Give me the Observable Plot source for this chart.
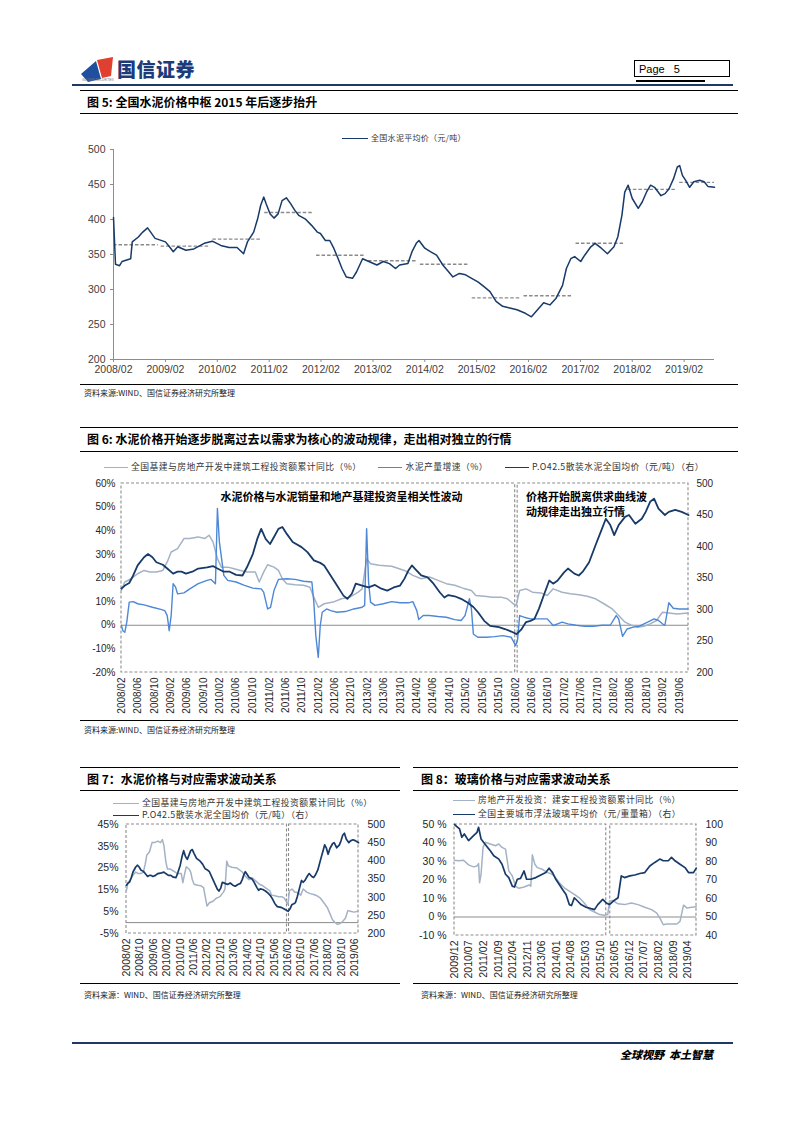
<!DOCTYPE html>
<html><head><meta charset="utf-8">
<script src="https://cdn.jsdelivr.net/npm/d3@7"></script>
<script src="https://cdn.jsdelivr.net/npm/@observablehq/plot@0.6"></script>
<style>
body{margin:0;background:#fff;}
#page{position:relative;width:793px;height:1122px;overflow:hidden;background:#fff;font-family:"Liberation Sans",Arial,sans-serif;}
.abs{position:absolute;}
.rule{position:absolute;height:0;}
.title{position:absolute;font-family:"Noto Sans CJK SC",sans-serif;font-weight:700;font-size:12px;color:#000;white-space:nowrap;line-height:13px;}
.src{position:absolute;font-family:"Noto Sans CJK SC",sans-serif;font-size:8px;color:#222;white-space:nowrap;line-height:9px;}
.leg{position:absolute;font-family:"Noto Sans CJK SC",sans-serif;font-size:8.8px;letter-spacing:0.45px;color:#333;white-space:nowrap;line-height:10px;height:10px;display:flex;align-items:center;}
.sw{display:inline-block;width:24px;height:0;margin-right:3px;}
.chart{position:absolute;}
</style></head>
<body><div id="page"></div>
<script>
// ---------------- DATA ----------------
const fig5TickLabels = ["2008/02","2009/02","2010/02","2011/02","2012/02","2013/02","2014/02","2015/02","2016/02","2017/02","2018/02","2019/02"];
const fig5YTicks = [200,250,300,350,400,450,500];
const cementAvgPrice = [
["2008-02-01",403],["2008-02-15",336],["2008-03-15",334],["2008-04-01",340],["2008-06-01",344],["2008-06-12",368],["2008-07-25",375],["2008-08-25",382],["2008-09-28",388],["2008-11-20",373],["2009-02-01",368],["2009-03-01",361],["2009-03-28",354],["2009-04-28",361],["2009-06-25",356],["2009-08-20",358],["2009-11-01",366],["2009-12-28",369],["2010-02-25",363],["2010-04-25",360],["2010-06-20",360],["2010-08-05",351],["2010-09-01",368],["2010-10-15",382],["2010-11-12",401],["2010-12-03",420],["2010-12-25",432],["2011-01-10",423],["2011-02-08",408],["2011-03-07",402],["2011-04-05",408],["2011-05-03",427],["2011-06-02",431],["2011-07-01",423],["2011-08-01",413],["2011-08-28",406],["2011-10-12",401],["2011-11-25",392],["2012-01-06",382],["2012-01-28",380],["2012-03-03",370],["2012-04-03",370],["2012-05-01",359],["2012-06-01",344],["2012-06-28",330],["2012-07-28",318],["2012-09-10",316],["2012-10-08",325],["2012-11-20",344],["2013-01-03",340],["2013-03-01",335],["2013-04-15",340],["2013-05-28",337],["2013-07-10",330],["2013-08-08",335],["2013-10-05",337],["2013-11-03",354],["2013-12-03",366],["2013-12-22",370],["2014-02-01",359],["2014-03-12",354],["2014-04-25",349],["2014-06-08",335],["2014-07-20",325],["2014-08-18",318],["2014-10-03",323],["2014-11-15",321],["2014-12-28",316],["2015-02-10",311],["2015-03-25",304],["2015-05-06",297],["2015-06-18",283],["2015-08-03",276],["2015-09-15",274],["2015-11-12",271],["2016-01-10",266],["2016-02-22",261],["2016-04-05",271],["2016-05-18",281],["2016-07-01",278],["2016-08-12",287],["2016-09-28",306],["2016-10-25",330],["2016-11-25",344],["2016-12-22",347],["2017-02-03",340],["2017-03-03",349],["2017-04-15",361],["2017-05-15",366],["2017-06-28",359],["2017-08-10",351],["2017-09-25",361],["2017-10-22",375],["2017-11-20",406],["2017-12-10",439],["2018-01-03",449],["2018-02-01",430],["2018-03-15",416],["2018-04-12",425],["2018-05-12",439],["2018-06-10",449],["2018-07-08",446],["2018-08-22",434],["2018-09-20",437],["2018-10-18",444],["2018-11-18",458],["2018-12-15",475],["2019-01-01",477],["2019-01-20",463],["2019-02-12",456],["2019-03-12",446],["2019-04-10",454],["2019-05-22",456],["2019-06-22",454],["2019-07-20",447],["2019-09-03",446]
];
const avgYears  = [2008,2009,2010,2011,2012,2013,2014,2015,2016,2017,2018,2019];
const avgValues = [364,362,372,410,349,341,336,288,291,366,443,453];

const fig6TickLabels = ["2008/02","2008/06","2008/10","2009/02","2009/06","2009/10","2010/02","2010/06","2010/10","2011/02","2011/06","2011/10","2012/02","2012/06","2012/10","2013/02","2013/06","2013/10","2014/02","2014/06","2014/10","2015/02","2015/06","2015/10","2016/02","2016/06","2016/10","2017/02","2017/06","2017/10","2018/02","2018/06","2018/10","2019/02","2019/06"];
const fig7TickLabels = ["2008/02","2008/10","2009/06","2010/02","2010/10","2011/06","2012/02","2012/10","2013/06","2014/02","2014/10","2015/06","2016/02","2016/10","2017/06","2018/02","2018/10","2019/06"];
const fig8TickLabels = ["2009/12","2010/07","2011/02","2011/09","2012/04","2012/11","2013/06","2014/01","2014/08","2015/03","2015/10","2016/05","2016/12","2017/07","2018/02","2018/09","2019/04"];

// decimal year, value
const investYoY = [[2008.08,14.7],[2008.15,18.3],[2008.28,19.7],[2008.41,21.8],[2008.54,23.2],[2008.66,22.5],[2008.79,22.5],[2008.92,23.2],[2009.01,26.8],[2009.09,31],[2009.22,32.4],[2009.35,36.7],[2009.47,36.7],[2009.64,37.4],[2009.77,36.7],[2009.86,38.1],[2009.94,35.3],[2010.03,28.2],[2010.11,24.6],[2010.24,24.6],[2010.37,23.9],[2010.50,23.2],[2010.63,22.5],[2010.80,22.5],[2010.88,18.3],[2010.97,22.5],[2011.05,25.6],[2011.18,24.6],[2011.27,23.2],[2011.35,19.7],[2011.44,17.6],[2011.61,17.1],[2011.78,16.9],[2011.91,16.1],[2011.99,11.9],[2012.08,7.6],[2012.20,9.1],[2012.38,9.8],[2012.55,11.2],[2012.72,11.9],[2012.89,14],[2012.97,15.4],[2013.06,28.2],[2013.14,26],[2013.31,25.4],[2013.57,25],[2013.83,23.2],[2014.00,21.1],[2014.17,19.7],[2014.34,20.4],[2014.51,19],[2014.68,17.6],[2014.85,16.9],[2015.02,15.7],[2015.19,14.7],[2015.28,12.6],[2015.45,12.3],[2015.62,11.9],[2015.79,11.9],[2015.92,11.2],[2016.04,9.1],[2016.10,8.4],[2016.17,14.7],[2016.30,15.4],[2016.43,14],[2016.60,13.7],[2016.73,12.6],[2016.85,15.4],[2017.03,14],[2017.20,13.3],[2017.37,12.9],[2017.54,12.3],[2017.71,11.2],[2017.88,9.1],[2018.05,6.9],[2018.18,4.1],[2018.31,1.3],[2018.43,0.1],[2018.56,-0.8],[2018.69,-0.4],[2018.82,0.6],[2018.95,2],[2019.07,5.5],[2019.20,5.2],[2019.37,4.8],[2019.59,5.2]];
const cementOutputYoY = [[2008.08,0],[2008.11,-2.3],[2008.15,-3],[2008.19,1.3],[2008.24,9.8],[2008.32,10],[2008.41,9.1],[2008.54,8.6],[2008.71,7.6],[2008.88,6.7],[2008.96,6.2],[2009.01,4.1],[2009.05,-2.3],[2009.09,4.1],[2009.13,17.6],[2009.18,16.1],[2009.22,13.3],[2009.35,13.7],[2009.47,15.4],[2009.64,17.6],[2009.82,19],[2009.90,19.4],[2009.99,17.6],[2010.03,49.4],[2010.07,35.3],[2010.16,21.1],[2010.24,19],[2010.41,18.3],[2010.58,16.9],[2010.75,15.7],[2010.92,15.4],[2010.97,14],[2011.05,6.9],[2011.11,7.6],[2011.18,14.7],[2011.27,19.4],[2011.44,19.7],[2011.61,19.4],[2011.78,18.6],[2011.95,18.3],[2011.99,9.8],[2012.03,-4.4],[2012.08,-13.6],[2012.12,-0.1],[2012.16,5.5],[2012.25,6.9],[2012.33,6.2],[2012.46,5.5],[2012.63,5.8],[2012.80,6.9],[2012.97,7.6],[2013.02,8.4],[2013.06,40.9],[2013.10,18.3],[2013.14,9.8],[2013.23,8.4],[2013.40,9.1],[2013.57,10],[2013.74,9.5],[2013.91,9.5],[2014.00,10],[2014.08,6.2],[2014.12,2.4],[2014.21,4.1],[2014.34,4.1],[2014.51,3.7],[2014.68,3.4],[2014.85,2.4],[2014.98,2],[2015.06,4.1],[2015.15,11.2],[2015.19,6.9],[2015.23,-3.7],[2015.32,-5.1],[2015.49,-5.1],[2015.66,-4.8],[2015.83,-4.4],[2016.00,-5.1],[2016.09,-8.6],[2016.13,-5.8],[2016.17,4.1],[2016.26,3.4],[2016.39,2.7],[2016.56,2.7],[2016.73,2.7],[2016.85,-0.1],[2016.94,0.6],[2017.03,1.3],[2017.15,0.6],[2017.32,0],[2017.49,-0.4],[2017.67,-0.4],[2017.84,0],[2018.01,0],[2018.13,4.1],[2018.18,2.7],[2018.26,-4.7],[2018.35,-1.6],[2018.48,-0.8],[2018.60,-0.4],[2018.77,1.3],[2018.90,2.7],[2018.99,2],[2019.07,0.6],[2019.12,0],[2019.20,9.5],[2019.29,7.2],[2019.41,6.9],[2019.59,6.9]];
const po425Price = [[2008.08,333],[2008.15,338],[2008.24,342],[2008.32,354],[2008.41,370],[2008.54,383],[2008.62,388],[2008.71,383],[2008.79,375],[2008.92,371],[2009.01,365],[2009.13,357],[2009.22,360],[2009.30,360],[2009.39,357],[2009.52,360],[2009.64,365],[2009.82,367],[2009.94,369],[2010.03,365],[2010.16,360],[2010.28,360],[2010.41,355],[2010.54,354],[2010.63,367],[2010.75,388],[2010.84,412],[2010.92,428],[2011.01,412],[2011.10,404],[2011.18,415],[2011.27,428],[2011.35,431],[2011.44,420],[2011.56,407],[2011.74,399],[2011.86,391],[2011.99,378],[2012.12,374],[2012.20,370],[2012.33,354],[2012.46,338],[2012.59,322],[2012.67,317],[2012.76,325],[2012.84,341],[2012.97,338],[2013.10,335],[2013.23,339],[2013.36,333],[2013.48,330],[2013.61,335],[2013.74,338],[2013.83,349],[2013.91,362],[2013.98,370],[2014.04,365],[2014.17,354],[2014.30,351],[2014.42,341],[2014.55,327],[2014.64,319],[2014.72,323],[2014.85,321],[2014.98,317],[2015.11,311],[2015.23,304],[2015.32,296],[2015.45,282],[2015.57,274],[2015.75,272],[2015.87,269],[2016.00,265],[2016.11,261],[2016.21,269],[2016.30,280],[2016.39,282],[2016.47,285],[2016.56,301],[2016.68,327],[2016.77,346],[2016.85,341],[2016.94,346],[2017.07,359],[2017.15,365],[2017.28,357],[2017.37,354],[2017.45,360],[2017.58,375],[2017.71,402],[2017.84,428],[2017.92,444],[2018.01,434],[2018.09,418],[2018.18,434],[2018.31,447],[2018.39,450],[2018.52,436],[2018.65,444],[2018.73,455],[2018.82,471],[2018.90,476],[2018.99,460],[2019.12,450],[2019.20,455],[2019.33,458],[2019.46,455],[2019.60,450]];
const buildInstallYoY = [[2009.92,30.7],[2010.08,30.4],[2010.28,30.7],[2010.48,28.2],[2010.68,27.1],[2010.82,27.6],[2010.88,28.9],[2010.92,18.5],[2010.98,23.1],[2011.06,37.6],[2011.15,40.4],[2011.35,39.5],[2011.56,38.5],[2011.69,39.5],[2011.82,37.6],[2011.96,36.7],[2012.09,24.9],[2012.23,22.2],[2012.36,16.7],[2012.49,15.5],[2012.70,16.2],[2012.90,17.3],[2012.97,16.7],[2013.03,33.6],[2013.13,28.5],[2013.23,26.7],[2013.43,25.8],[2013.64,24],[2013.77,23.5],[2013.91,22.2],[2014.11,18.5],[2014.31,15.8],[2014.51,14],[2014.71,12.2],[2014.91,10.4],[2015.11,7.6],[2015.32,4],[2015.52,2.7],[2015.72,1.3],[2015.92,0.9],[2016.05,1.3],[2016.12,8.5],[2016.26,8.9],[2016.46,7.1],[2016.72,6.7],[2016.99,7.6],[2017.26,6.7],[2017.53,5.3],[2017.80,4],[2018.00,2.2],[2018.13,-0.5],[2018.27,-4.2],[2018.40,-3.8],[2018.60,-3.8],[2018.81,-3.8],[2018.94,-2.4],[2019.08,6.4],[2019.21,4.9],[2019.41,5.3],[2019.59,5.6]];
const floatGlassPrice = [[2009.92,100],[2010.01,98.9],[2010.12,97.6],[2010.21,93.1],[2010.31,94.9],[2010.48,91.3],[2010.68,94],[2010.82,95.8],[2010.88,98.5],[2010.98,92.2],[2011.08,90.4],[2011.22,88],[2011.35,85.8],[2011.49,83.1],[2011.69,81.3],[2011.82,78.5],[2011.96,73.1],[2012.09,71.3],[2012.23,66.7],[2012.32,66.2],[2012.43,70.4],[2012.56,70.9],[2012.70,74.9],[2012.80,70.4],[2012.97,70.4],[2013.17,71.3],[2013.37,72.7],[2013.57,74],[2013.70,76.4],[2013.84,74],[2013.97,70.4],[2014.11,67.6],[2014.24,64.9],[2014.38,62.2],[2014.51,56.7],[2014.60,56.2],[2014.71,60.4],[2014.85,58.5],[2014.98,56.7],[2015.18,55.3],[2015.38,54.5],[2015.52,54],[2015.65,56.7],[2015.85,59.5],[2015.99,57.6],[2016.12,56.7],[2016.26,58.5],[2016.46,60.4],[2016.59,72.2],[2016.72,71.3],[2016.93,72.2],[2017.13,72.7],[2017.33,73.5],[2017.53,74],[2017.73,77.6],[2017.93,79.5],[2018.13,81.3],[2018.27,80.4],[2018.47,80.4],[2018.60,82.2],[2018.74,80.4],[2018.94,78.5],[2019.14,76.7],[2019.28,74],[2019.48,74],[2019.59,76.4]];

const fig6Boxes = [[2008.083,2016.08],[2016.13,2019.60]];
const fig7Boxes = [[2008.083,2016.05],[2016.15,2019.60]];
const fig8Boxes = [[2009.917,2015.99],[2016.15,2019.60]];
const fig6NoteMiddle = [{t:2012.55, v:54.2, text:"水泥价格与水泥销量和地产基建投资呈相关性波动"}];
const fig6NoteStart = [
  {t:2016.30, v:54.2, text:"价格开始脱离供求曲线波"},
  {t:2016.30, v:47.6, text:"动规律走出独立行情"}
];

// ---------------- HELPERS ----------------
const toDate = t => { const y = Math.floor(t); const s = Date.UTC(y,0,1), e = Date.UTC(y+1,0,1); return new Date(s + (t-y)*(e-s)); };
const lab = s => { const [y,m] = s.split("/"); return new Date(Date.UTC(+y, +m-1, 1)); };
const pairs = arr => arr.map(([t,v]) => ({date: toDate(t), value: v}));
const fmtYM = d3.utcFormat("%Y/%m");
const C_DARK = "#173a68", C_GRAY = "#a4b2c6", C_BLUE = "#4d88d6";
const page = document.getElementById("page");
function el(tag, cls, style, html){ const e=document.createElement(tag); if(cls) e.className=cls; Object.assign(e.style, style||{}); if(html!=null) e.innerHTML=html; page.appendChild(e); return e; }
function rule(x,y,w,thick,color){ return el("div","rule",{left:x+"px",top:y+"px",width:w+"px",borderTop:thick+"px solid "+color}); }
function legend(x,y,items){ const d=el("div","leg",{left:x+"px",top:y+"px"}); items.forEach((it,i)=>{ const s=document.createElement("span"); s.className="sw"; s.style.borderTop=(it.w||1.6)+"px solid "+it.color; if(it.sw) s.style.width=it.sw+"px"; const t=document.createElement("span"); t.textContent=it.text; if(it.gap) t.style.marginRight=it.gap+"px"; d.appendChild(s); d.appendChild(t); }); return d; }
function place(svg, x, y){ const w=el("div","chart",{left:x+"px",top:y+"px"}); w.appendChild(svg); return w; }
const baseStyle = {fontFamily:"'Liberation Sans', Arial, sans-serif", fontSize:"10px", color:"#262626", overflow:"visible"};
const noteFont = {fontFamily:"'Noto Sans CJK SC'", fontWeight:"bold", fontSize:11, fill:"#000"};

// ---------------- HEADER ----------------
el("div","abs",{left:"80px",top:"55px"},`<svg width="36" height="30"><polygon points="1,19 16,6 21,24 8,27" fill="#1f4f9e"/><polygon points="17,5 33,2 31,21 22,23" fill="#e0402f"/></svg>`);
el("div","abs",{left:"117px",top:"58px",fontFamily:"'Noto Sans CJK SC'",fontWeight:"900",fontSize:"19px",color:"#1c3b78",lineHeight:"22px",letterSpacing:"0.5px"},"国信证券");
el("div","abs",{left:"82px",top:"79px",fontSize:"3px",color:"#777",lineHeight:"3px"},"GUOSEN SECURITIES");
el("div","abs",{left:"634px",top:"60px",width:"96px",height:"17px",border:"1px solid #000",fontSize:"11px",lineHeight:"17px",boxSizing:"border-box",paddingLeft:"4px"},"Page&nbsp;&nbsp; 5");
el("div","abs",{left:"636px",top:"80px",width:"69px",height:"2px",background:"#000"});
rule(72,84,661,2,"#1f3864");

// ---------------- FIG 5 ----------------
rule(80,90,658,1.5,"#000");
el("div","title",{left:"87px",top:"95px"},"图 5: 全国水泥价格中枢 2015 年后逐步抬升");
rule(80,113,658,1,"#000");
{ const lg = legend(342,133,[{text:"全国水泥平均价（元/吨）",color:C_DARK,sw:26,w:1.6}]); lg.style.fontSize="8px"; lg.style.letterSpacing="0.3px"; }
{
  const data = cementAvgPrice.map(([d,v])=>({date:new Date(d+"T00:00:00Z"), value:v}));
  const xStart = data[0].date, xEnd = data[data.length-1].date;
  const segs = avgYears.map((y,i)=>({y:avgValues[i],
    x1: y===2008 ? xStart : new Date(Date.UTC(y,0,1)),
    x2: y===2019 ? xEnd : new Date(Date.UTC(y,11,12))}));
  const svg = Plot.plot({
    width:793, height:245, marginTop:9, marginBottom:26, marginLeft:113, marginRight:79,
    style:{...baseStyle, fontSize:"10.5px", color:"#404040"},
    x:{type:"utc", domain:[xStart, xEnd]},
    y:{domain:[200,500]},
    marks:[
      Plot.ruleY([200],{stroke:"#8c8c8c"}),
      Plot.ruleX([xStart],{stroke:"#8c8c8c"}),
      Plot.axisY({ticks:fig5YTicks, tickSize:3, tickPadding:5, label:null, stroke:"#8c8c8c"}),
      Plot.axisX({ticks:fig5TickLabels.map(lab), tickFormat:fmtYM, tickSize:3, tickPadding:3, label:null, stroke:"#8c8c8c"}),
      Plot.ruleY(segs,{y:"y", x1:"x1", x2:"x2", stroke:"#8a8a8a", strokeWidth:1.4, strokeDasharray:"3.5,2"}),
      Plot.line(data,{x:"date", y:"value", stroke:C_DARK, strokeWidth:1.5})
    ]
  });
  place(svg,0,140);
}
rule(80,384,658,1,"#000");
el("div","src",{left:"84px",top:"388px"},"资料来源:WIND、国信证券经济研究所整理");

// ---------------- DUAL CHART BUILDER ----------------
function dual(o){
  const common = {width:o.w, height:o.h, marginTop:o.mt, marginBottom:o.mb, marginLeft:o.ml, marginRight:o.mr};
  const xDom = [toDate(o.x0), toDate(o.x1)];
  const boxes = o.boxes.map(([a,b])=>({start:toDate(a), end:toDate(b)}));
  const marks1 = [
    Plot.axisY({ticks:o.leftTicks, tickFormat:d=>d+o.pct, tickSize:0, tickPadding:o.tpl, label:null}),
    Plot.axisX({ticks:o.xTicks.map(lab), tickFormat:fmtYM, tickRotate:-90, tickSize:0, tickPadding:5, label:null}),
    Plot.ruleY([0],{stroke:"#8c8c8c", strokeWidth:1}),
    Plot.rect(boxes,{x1:"start", x2:"end", fill:"none", stroke:"#8c8c8c", strokeWidth:1.1, strokeDasharray:"3,2"}),
    ...o.leftLines.map(s=>Plot.line(pairs(s.data),{x:"date", y:"value", stroke:s.color, strokeWidth:s.width}))
  ];
  if (o.notesMiddle) marks1.push(Plot.text(o.notesMiddle,{x:d=>toDate(d.t), y:"v", text:"text", textAnchor:"middle", ...noteFont, letterSpacing:"1px"}));
  if (o.notesStart) marks1.push(Plot.text(o.notesStart,{x:d=>toDate(d.t), y:"v", text:"text", textAnchor:"start", ...noteFont}));
  const p1 = Plot.plot({...common, style:{...baseStyle, fontSize:o.fs}, x:{type:"utc", domain:xDom}, y:{domain:o.left}, marks:marks1});
  const p2 = Plot.plot({...common, style:{...baseStyle, fontSize:o.fs, background:"transparent"},
    x:{type:"utc", domain:xDom, axis:null}, y:{domain:o.right},
    marks:[
      Plot.axisY({anchor:"right", ticks:o.rightTicks, tickSize:0, tickPadding:o.tpr, label:null}),
      Plot.line(pairs(o.rightLine.data),{x:"date", y:"value", stroke:o.rightLine.color, strokeWidth:o.rightLine.width})
    ]});
  place(p1,o.px,o.py); place(p2,o.px,o.py);
}

// ---------------- FIG 6 ----------------
rule(80,427,658,1.5,"#000");
el("div","title",{left:"87px",top:"432px"},"图 6: 水泥价格开始逐步脱离过去以需求为核心的波动规律，走出相对独立的行情");
rule(80,451,658,1,"#000");
legend(104,462,[
  {text:"全国基建与房地产开发中建筑工程投资额累计同比（%）",color:C_GRAY,gap:17},
  {text:"水泥产量增速（%）",color:C_BLUE,gap:17},
  {text:"P.O42.5散装水泥全国均价（元/吨）（右）",color:C_DARK}
]);
dual({px:0, py:475, w:793, h:250, mt:8, mb:53, ml:121, mr:105, fs:"10px", tpl:6, tpr:8, pct:"%",
  x0:2008.083, x1:2019.60, xTicks:fig6TickLabels, boxes:fig6Boxes,
  left:[-20,60], leftTicks:[-20,-10,0,10,20,30,40,50,60],
  right:[200,500], rightTicks:[200,250,300,350,400,450,500],
  leftLines:[{data:investYoY,color:C_GRAY,width:1.5},{data:cementOutputYoY,color:C_BLUE,width:1.4}],
  rightLine:{data:po425Price,color:C_DARK,width:1.8}, notesMiddle:fig6NoteMiddle, notesStart:fig6NoteStart});
rule(80,720,658,1,"#000");
el("div","src",{left:"84px",top:"725px"},"资料来源:WIND、国信证券经济研究所整理");

// ---------------- FIG 7 ----------------
rule(80,767,320,1.5,"#000");
el("div","title",{left:"87px",top:"772px"},"图 7：水泥价格与对应需求波动关系");
rule(80,790,320,1,"#000");
legend(113,798,[{text:"全国基建与房地产开发中建筑工程投资额累计同比（%）",color:C_GRAY,sw:26}]);
legend(113,810,[{text:"P.O42.5散装水泥全国均价（元/吨）（右）",color:C_DARK,sw:26}]);
dual({px:0, py:818, w:400, h:165, mt:6, mb:50, ml:126, mr:42, fs:"10.5px", tpl:8, tpr:9, pct:"%",
  x0:2008.083, x1:2019.60, xTicks:fig7TickLabels, boxes:fig7Boxes,
  left:[-5,45], leftTicks:[-5,5,15,25,35,45],
  right:[200,500], rightTicks:[200,250,300,350,400,450,500],
  leftLines:[{data:investYoY,color:C_GRAY,width:1.5}],
  rightLine:{data:po425Price,color:C_DARK,width:1.7}});
rule(80,983,320,1,"#000");
el("div","src",{left:"84px",top:"990px"},"资料来源：WIND、国信证券经济研究所整理");

// ---------------- FIG 8 ----------------
rule(413,767,325,1.5,"#000");
el("div","title",{left:"421px",top:"772px"},"图 8：玻璃价格与对应需求波动关系");
rule(413,790,325,1,"#000");
legend(453,795,[{text:"房地产开发投资：建安工程投资额累计同比（%）",color:C_GRAY,sw:22}]);
legend(453,809,[{text:"全国主要城市浮法玻璃平均价（元/重量箱）（右）",color:C_DARK,sw:22}]);
dual({px:400, py:818, w:393, h:165, mt:6, mb:48, ml:54, mr:97, fs:"10.5px", tpl:8, tpr:9, pct:" %",
  x0:2009.917, x1:2019.60, xTicks:fig8TickLabels, boxes:fig8Boxes,
  left:[-10,50], leftTicks:[-10,0,10,20,30,40,50],
  right:[40,100], rightTicks:[40,50,60,70,80,90,100],
  leftLines:[{data:buildInstallYoY,color:C_GRAY,width:1.5}],
  rightLine:{data:floatGlassPrice,color:C_DARK,width:1.7}});
rule(413,983,325,1,"#000");
el("div","src",{left:"421px",top:"990px"},"资料来源：WIND、国信证券经济研究所整理");

// ---------------- FOOTER ----------------
rule(72,1042,661,2,"#1f3864");
el("div","abs",{left:"620px",top:"1048px",fontFamily:"'Noto Sans CJK SC'",fontWeight:"900",fontStyle:"italic",fontSize:"11px",lineHeight:"13px",whiteSpace:"nowrap"},"全球视野&nbsp;&nbsp;本土智慧");
</script></body></html>
